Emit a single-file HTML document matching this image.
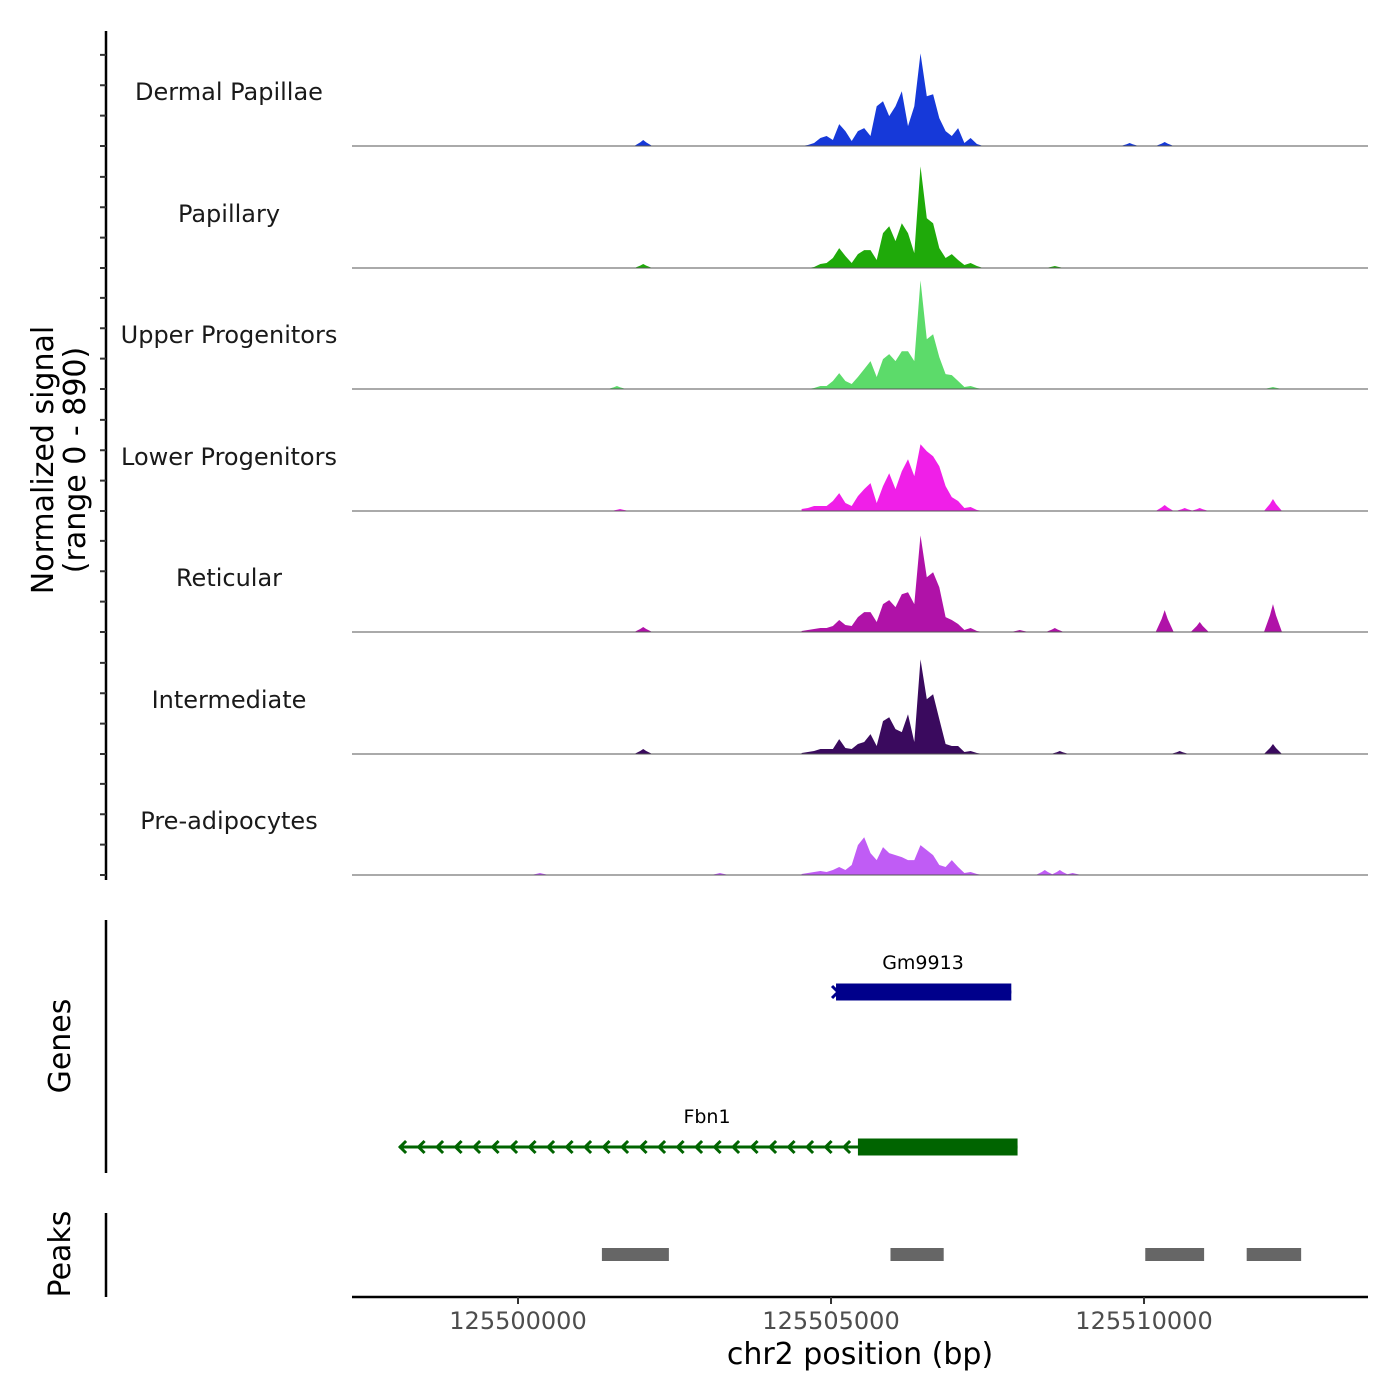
<!DOCTYPE html>
<html><head><meta charset="utf-8"><style>
body{margin:0;background:#fff}
svg{display:block;font-family:"DejaVu Sans","Liberation Sans",sans-serif}
</style></head><body>
<svg id="chart" width="1400" height="1400" xmlns="http://www.w3.org/2000/svg"></svg>
<script>
// ---- data ----
const trackNames = ["Dermal Papillae","Papillary","Upper Progenitors","Lower Progenitors","Reticular","Intermediate","Pre-adipocytes"];
const trackColors = ["#1639d9","#1faa0a","#5cdb6a","#f01fe8","#b012a8","#3a0a5e","#c05cf5"];
const binStart = 125504530;
const binSize = 100;
const dermal = [0,1,3,8,10,6,22,15,5,15,18,10,40,45,30,40,55,20,40,93,50,52,28,15,10,18,3,8,2,0,0];
const papillary = [0,0,1,4,5,10,20,12,5,14,18,18,8,35,42,27,45,35,15,102,50,45,20,10,14,8,3,5,2,0,0];
const upperProg = [0,0,1,3,3,8,16,8,5,12,20,28,12,30,35,28,38,38,28,109,50,55,32,15,14,8,2,3,1,0,0];
const lowerProg = [2,3,5,5,5,10,18,8,5,15,22,28,8,25,38,22,40,52,35,67,60,55,45,25,14,10,3,4,1,0,0];
const reticular = [1,2,3,4,4,6,12,7,6,15,20,20,10,28,32,25,38,40,28,97,55,60,45,15,12,8,2,4,1,0,0];
const intermediate = [1,2,3,5,5,5,15,6,5,10,12,20,8,33,37,25,22,40,12,95,55,60,35,10,8,8,2,3,1,0,0];
const preAdipo = [1,2,3,4,3,5,8,5,10,30,38,22,15,28,22,20,18,15,15,30,25,20,10,8,15,8,2,3,1,0,0];
const mainBins = [dermal,papillary,upperProg,lowerProg,reticular,intermediate,preAdipo];
// small isolated peaks: [position bp, signal]
const smallDermal = [[125502000,6],[125509770,3],[125510330,4]];
const smallPapillary = [[125502000,4],[125508575,2]];
const smallUpper = [[125501580,3],[125512060,2]];
const smallLower = [[125501630,2],[125510330,6],[125510650,3],[125510890,3],[125512060,12]];
const smallReticular = [[125502000,5],[125508015,2],[125508575,4],[125510330,22],[125510890,10],[125512060,28]];
const smallIntermediate = [[125502000,5],[125508655,3],[125510570,3],[125512060,10]];
const smallPre = [[125500350,2],[125503225,2],[125508415,5],[125508655,5],[125508860,2]];
const smallPeaks = [smallDermal,smallPapillary,smallUpper,smallLower,smallReticular,smallIntermediate,smallPre];
const peakStarts = [125501340,125505950,125510020,125511640];
const peakEnds = [125502410,125506800,125510960,125512510];
const xTicks = [125500000,125505000,125510000];
const genes = ["Gm9913","Fbn1"];
const geneStarts = [125505080,125498100];
const geneEnds = [125507880,125507980];
const exonStarts = [125505080,125505430];
const exonEnds = [125507880,125507980];

// ---- axes ----
const X0 = 352, X1 = 1368, BP0 = 125497348, BP1 = 125513578;
const xs = bp => X0 + (bp - BP0) / (BP1 - BP0) * (X1 - X0);
const baselines = [146,268,389,511,632,754,875];
const yMax = 122, trackH = 121.5;
const ys = (v, b) => b - v / yMax * trackH;

const svg = document.getElementById('chart');
const NS = 'http://www.w3.org/2000/svg';
function mk(tag, attrs, parent){const e=document.createElementNS(NS,tag);for(const k in attrs)e.setAttribute(k,attrs[k]);(parent||svg).appendChild(e);return e;}

trackNames.forEach((name,t)=>{
  const b = baselines[t];
  const g = mk('g',{});
  
  
  const bins = mainBins[t];
  let d = 'M' + xs(binStart) + ',' + b;
  bins.forEach((v,i)=>{ d += ' L' + xs(binStart + i*binSize).toFixed(1) + ',' + ys(v,b).toFixed(1); });
  d += ' L' + xs(binStart + (bins.length-1)*binSize) + ',' + b + ' Z';
  const area = mk('path',{d:d,fill:trackColors[t]},g);
  
  
  smallPeaks[t].forEach(p=>{
    const cx = xs(p[0]), w = 9;
    const sp = mk('path',{d:`M${cx-w},${b} L${cx-w/3},${ys(p[1]*0.6,b)} L${cx},${ys(p[1],b)} L${cx+w/3},${ys(p[1]*0.6,b)} L${cx+w},${b} Z`,fill:trackColors[t]},g);
    
    
  });
  const bl = mk('line',{x1:X0,x2:X1,y1:b,y2:b,stroke:'#555','stroke-width':1},g);
  
  
  const lab = mk('text',{x:229,y:b-46,'text-anchor':'middle','font-size':24,fill:'#1a1a1a'},g);
  lab.textContent = name;
  
  
});

const ya = mk('line',{x1:106,x2:106,y1:31,y2:880,stroke:'#000','stroke-width':2.5});


baselines.forEach(b=>{
  for(let k=0;k<4;k++){
    const y = b - k*trackH/4;
    const tk = mk('line',{x1:100,x2:106,y1:y,y2:y,stroke:'#333','stroke-width':2});
    
    
  }
});
const yt = mk('text',{transform:'translate(53,460) rotate(-90)','text-anchor':'middle','font-size':30});


const t1 = mk('tspan',{x:0,dy:0},yt); t1.textContent='Normalized signal';
const t2 = mk('tspan',{x:0,dy:32},yt); t2.textContent='(range 0 - 890)';

const ga = mk('line',{x1:106,x2:106,y1:920,y2:1173,stroke:'#000','stroke-width':2.5});


const gt = mk('text',{transform:'translate(70,1046) rotate(-90)','text-anchor':'middle','font-size':30});
gt.textContent='Genes';



const geneY = [992,1147], geneCol = ['#00008b','#006400'], geneLabY=[969,1123];
const labX = [923,707];
genes.forEach((gname,i)=>{
  const g = mk('g',{});
  
  
  const y = geneY[i];
  mk('line',{x1:xs(geneStarts[i]),x2:xs(geneEnds[i]),y1:y,y2:y,stroke:geneCol[i],'stroke-width':3},g);
  const r = mk('rect',{x:xs(exonStarts[i]),y:y-8.5,width:xs(exonEnds[i])-xs(exonStarts[i]),height:17,fill:geneCol[i]},g);
  
  
  const lab = mk('text',{x:labX[i],y:geneLabY[i],'text-anchor':'middle','font-size':19,fill:'#000'},g);
  lab.textContent = gname;
  
  
  if(i===0){
    const a = xs(geneStarts[i]);
    mk('path',{d:`M${a-4},${y-6} L${a+2},${y} L${a-4},${y+6}`,fill:'none',stroke:geneCol[i],'stroke-width':3},g);
  } else {
    for(let x = xs(geneStarts[i]); x < xs(exonStarts[i]); x += 18.5){
      mk('path',{d:`M${x+7},${y-6} L${x+1},${y} L${x+7},${y+6}`,fill:'none',stroke:geneCol[i],'stroke-width':3},g);
    }
  }
});

const pa = mk('line',{x1:106,x2:106,y1:1213,y2:1297,stroke:'#000','stroke-width':2.5});


const pt = mk('text',{transform:'translate(70,1254) rotate(-90)','text-anchor':'middle','font-size':30});
pt.textContent='Peaks';


peakStarts.forEach((s,i)=>{
  const r = mk('rect',{x:xs(s),y:1248,width:xs(peakEnds[i])-xs(s),height:13,fill:'#666'});
  
  
});

const xa = mk('line',{x1:X0,x2:X1,y1:1297,y2:1297,stroke:'#000','stroke-width':2.5});


xTicks.forEach(v=>{
  const x = xs(v);
  const tk = mk('line',{x1:x,x2:x,y1:1297,y2:1304,stroke:'#333','stroke-width':2});
  
  
  const tl = mk('text',{x:x,y:1329,'text-anchor':'middle','font-size':24,fill:'#4d4d4d'});
  tl.textContent = String(v);
  
  
});
const xt = mk('text',{x:860,y:1364,'text-anchor':'middle','font-size':30});
xt.textContent='chr2 position (bp)';


</script>
</body></html>
